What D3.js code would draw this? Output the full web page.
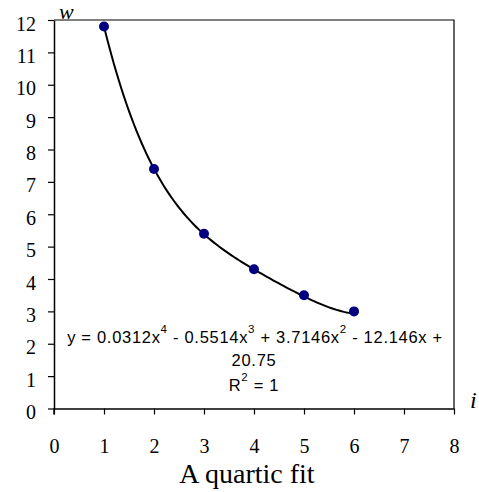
<!DOCTYPE html>
<html>
<head>
<meta charset="utf-8">
<script src="https://cdn.jsdelivr.net/npm/d3@7"></script>
<style>
  html, body { margin: 0; padding: 0; background: #fff; }
  svg { display: block; }
</style>
</head>
<body>
<svg id="chart" width="479" height="492"></svg>
<script>
// Observed values
const iValues = [1, 2, 3, 4, 5, 6];
const wValues = [11.8, 7.4, 5.4, 4.3, 3.5, 3.0];

// Quartic trendline coefficients, highest power first
const fitCoefficients = [0.0312, -0.5514, 3.7146, -12.146, 20.75];
const rSquaredLabel = "1";

const xTicks = [0, 1, 2, 3, 4, 5, 6, 7, 8];
const yTicks = [0, 1, 2, 3, 4, 5, 6, 7, 8, 9, 10, 11, 12];

const svg = d3.select("#chart");
const serif = "'Liberation Serif', 'Times New Roman', serif";
const sans = "'Liberation Sans', Arial, sans-serif";

const x = d3.scaleLinear().domain([0, 8]).range([54, 454]);
const y = d3.scaleLinear().domain([0, 12]).range([408.5, 20]);

// Frame: top and right edges of the plot area
svg.append("path")
  .attr("d", `M${x(0)},${y(12)}H${x(8)}V${y(0)}`)
  .attr("fill", "none").attr("stroke", "#000").attr("stroke-width", 1.2);

// Axes
const yAxis = svg.append("g")
  .attr("transform", `translate(${x(0)},0)`)
  .call(d3.axisLeft(y).tickValues(yTicks).tickSize(6).tickPadding(12).tickSizeOuter(0));
yAxis.selectAll("text").attr("dy", "0.5em");

const xAxis = svg.append("g")
  .attr("transform", `translate(0,${y(0)})`)
  .call(d3.axisBottom(x).tickValues(xTicks).tickSize(6).tickSizeOuter(0));
xAxis.selectAll("text").attr("y", 44).attr("dy", 0);

[yAxis, xAxis].forEach(g => {
  g.select(".domain").attr("stroke", "#000").attr("stroke-width", 1.5);
  g.selectAll(".tick line").attr("stroke", "#000").attr("stroke-width", 1.2);
  g.selectAll("text")
    .attr("fill", "#000")
    .style("font-family", serif)
    .style("font-size", "20px");
});
// extend the left axis down through the x tick row
svg.append("line")
  .attr("x1", x(0)).attr("x2", x(0))
  .attr("y1", y(0)).attr("y2", y(0) + 6)
  .attr("stroke", "#000").attr("stroke-width", 1.5);

// Trendline
const poly = t => fitCoefficients.reduce((acc, c) => acc * t + c, 0);
const curveXs = d3.range(iValues[0], iValues[iValues.length - 1] + 1e-9, 0.05);
svg.append("path")
  .datum(curveXs)
  .attr("fill", "none")
  .attr("stroke", "#000")
  .attr("stroke-width", 2)
  .attr("d", d3.line().x(d => x(d)).y(d => y(poly(d))));

// Data points
svg.append("g").selectAll("circle")
  .data(iValues.map((v, k) => [v, wValues[k]]))
  .join("circle")
  .attr("cx", d => x(d[0]))
  .attr("cy", d => y(d[1]))
  .attr("r", 5)
  .attr("fill", "#000080");

// Text with superscripts: segments are [text, isSuperscript]
const SUP_SHIFT = 10;
function writeRuns(textSel, runs) {
  let raised = false;
  runs.forEach(([str, sup]) => {
    const ts = textSel.append("tspan").text(str);
    if (sup && !raised) { ts.attr("dy", -SUP_SHIFT); raised = true; }
    else if (!sup && raised) { ts.attr("dy", SUP_SHIFT); raised = false; }
    if (sup) ts.style("font-size", "11.5px");
  });
}

// Trendline equation, first line: the x terms
const n = fitCoefficients.length;
const runs = [];
fitCoefficients.forEach((c, i) => {
  const power = n - 1 - i;
  if (power === 0) return;
  const lead = i === 0 ? "y = " + (c < 0 ? "-" : "") : ` ${c < 0 ? "-" : "+"} `;
  runs.push([lead + Math.abs(c) + "x", false]);
  if (power > 1) runs.push([String(power), true]);
});
const constTerm = fitCoefficients[n - 1];
runs.push([` ${constTerm < 0 ? "-" : "+"}`, false]);

const eqStyle = s => s.attr("text-anchor", "middle")
  .style("font-family", sans).style("font-size", "16.5px")
  .style("letter-spacing", "0.7px").attr("fill", "#000");

writeRuns(svg.append("text").attr("x", 255).attr("y", 343).call(eqStyle), runs);

svg.append("text").attr("x", 254).attr("y", 366).call(eqStyle)
  .text(Math.abs(constTerm));

writeRuns(svg.append("text").attr("x", 254).attr("y", 391).call(eqStyle),
  [["R", false], ["2", true], [" = " + rSquaredLabel, false]]);

// Axis titles
svg.append("text")
  .attr("x", 59).attr("y", 19)
  .style("font-family", serif).style("font-style", "italic").style("font-size", "22px")
  .text("w");
svg.append("text")
  .attr("x", 470).attr("y", 408)
  .style("font-family", serif).style("font-style", "italic").style("font-size", "24px")
  .text("i");

// Chart caption
svg.append("text")
  .attr("x", 247).attr("y", 483)
  .attr("text-anchor", "middle")
  .style("font-family", serif).style("font-size", "28px")
  .text("A quartic fit");
</script>
</body>
</html>
